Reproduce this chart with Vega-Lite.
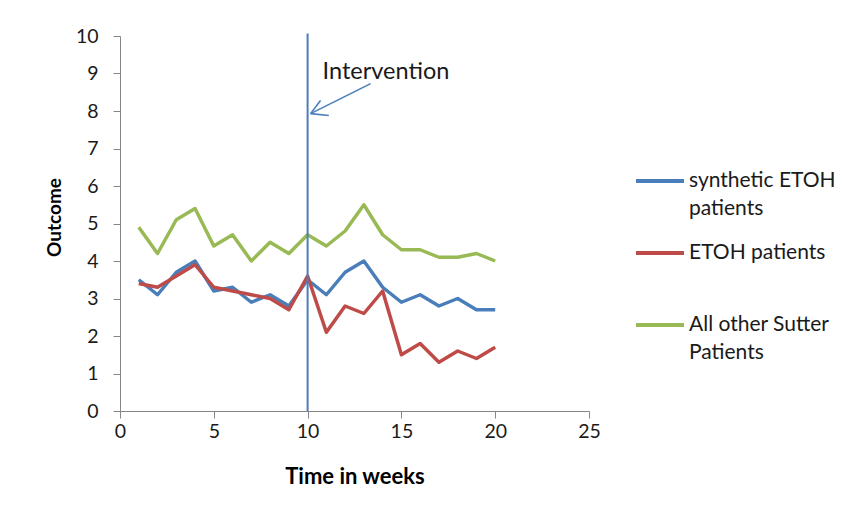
{
  "$schema": "https://vega.github.io/schema/vega-lite/v6.json",
  "width": 469,
  "height": 375,
  "autosize": {"type": "none"},
  "padding": {"left": 120, "top": 36, "right": 256, "bottom": 103},
  "background": "white",
  "config": {
    "view": {"stroke": null},
    "font": "Lato",
    "style": {"guide-label": {"lineHeight": 28}},
    "axis": {
      "grid": false,
      "domainColor": "#868686",
      "tickColor": "#868686",
      "tickSize": 7,
      "labelFont": "Lato",
      "labelFontSize": 19.5,
      "labelColor": "#1a1a1a",
      "labelOverlap": false,
      "labelFlush": false,
      "titleFont": "Lato",
      "titleFontWeight": "bold",
      "titleColor": "#000000"
    }
  },
  "datasets": {
    "series": [
      {"week": 1, "series": "synthetic ETOH patients", "value": 3.5},
      {"week": 2, "series": "synthetic ETOH patients", "value": 3.1},
      {"week": 3, "series": "synthetic ETOH patients", "value": 3.7},
      {"week": 4, "series": "synthetic ETOH patients", "value": 4.0},
      {"week": 5, "series": "synthetic ETOH patients", "value": 3.2},
      {"week": 6, "series": "synthetic ETOH patients", "value": 3.3},
      {"week": 7, "series": "synthetic ETOH patients", "value": 2.9},
      {"week": 8, "series": "synthetic ETOH patients", "value": 3.1},
      {"week": 9, "series": "synthetic ETOH patients", "value": 2.8},
      {"week": 10, "series": "synthetic ETOH patients", "value": 3.5},
      {"week": 11, "series": "synthetic ETOH patients", "value": 3.1},
      {"week": 12, "series": "synthetic ETOH patients", "value": 3.7},
      {"week": 13, "series": "synthetic ETOH patients", "value": 4.0},
      {"week": 14, "series": "synthetic ETOH patients", "value": 3.3},
      {"week": 15, "series": "synthetic ETOH patients", "value": 2.9},
      {"week": 16, "series": "synthetic ETOH patients", "value": 3.1},
      {"week": 17, "series": "synthetic ETOH patients", "value": 2.8},
      {"week": 18, "series": "synthetic ETOH patients", "value": 3.0},
      {"week": 19, "series": "synthetic ETOH patients", "value": 2.7},
      {"week": 20, "series": "synthetic ETOH patients", "value": 2.7},
      {"week": 1, "series": "ETOH patients", "value": 3.4},
      {"week": 2, "series": "ETOH patients", "value": 3.3},
      {"week": 3, "series": "ETOH patients", "value": 3.6},
      {"week": 4, "series": "ETOH patients", "value": 3.9},
      {"week": 5, "series": "ETOH patients", "value": 3.3},
      {"week": 6, "series": "ETOH patients", "value": 3.2},
      {"week": 7, "series": "ETOH patients", "value": 3.1},
      {"week": 8, "series": "ETOH patients", "value": 3.0},
      {"week": 9, "series": "ETOH patients", "value": 2.7},
      {"week": 10, "series": "ETOH patients", "value": 3.6},
      {"week": 11, "series": "ETOH patients", "value": 2.1},
      {"week": 12, "series": "ETOH patients", "value": 2.8},
      {"week": 13, "series": "ETOH patients", "value": 2.6},
      {"week": 14, "series": "ETOH patients", "value": 3.2},
      {"week": 15, "series": "ETOH patients", "value": 1.5},
      {"week": 16, "series": "ETOH patients", "value": 1.8},
      {"week": 17, "series": "ETOH patients", "value": 1.3},
      {"week": 18, "series": "ETOH patients", "value": 1.6},
      {"week": 19, "series": "ETOH patients", "value": 1.4},
      {"week": 20, "series": "ETOH patients", "value": 1.7},
      {"week": 1, "series": "All other Sutter Patients", "value": 4.9},
      {"week": 2, "series": "All other Sutter Patients", "value": 4.2},
      {"week": 3, "series": "All other Sutter Patients", "value": 5.1},
      {"week": 4, "series": "All other Sutter Patients", "value": 5.4},
      {"week": 5, "series": "All other Sutter Patients", "value": 4.4},
      {"week": 6, "series": "All other Sutter Patients", "value": 4.7},
      {"week": 7, "series": "All other Sutter Patients", "value": 4.0},
      {"week": 8, "series": "All other Sutter Patients", "value": 4.5},
      {"week": 9, "series": "All other Sutter Patients", "value": 4.2},
      {"week": 10, "series": "All other Sutter Patients", "value": 4.7},
      {"week": 11, "series": "All other Sutter Patients", "value": 4.4},
      {"week": 12, "series": "All other Sutter Patients", "value": 4.8},
      {"week": 13, "series": "All other Sutter Patients", "value": 5.5},
      {"week": 14, "series": "All other Sutter Patients", "value": 4.7},
      {"week": 15, "series": "All other Sutter Patients", "value": 4.3},
      {"week": 16, "series": "All other Sutter Patients", "value": 4.3},
      {"week": 17, "series": "All other Sutter Patients", "value": 4.1},
      {"week": 18, "series": "All other Sutter Patients", "value": 4.1},
      {"week": 19, "series": "All other Sutter Patients", "value": 4.2},
      {"week": 20, "series": "All other Sutter Patients", "value": 4.0}
    ]
  },
  "layer": [
    {
      "data": {"name": "series"},
      "mark": {"type": "line", "strokeWidth": 3.5, "strokeJoin": "round"},
      "encoding": {
        "x": {
          "field": "week", "type": "quantitative",
          "scale": {"domain": [0, 25], "nice": false, "zero": false},
          "axis": {"values": [0, 5, 10, 15, 20, 25], "title": "Time in weeks", "titleFontSize": 22, "labelPadding": 4, "titlePadding": 26, "labelOverlap": false}
        },
        "y": {
          "field": "value", "type": "quantitative",
          "scale": {"domain": [0, 10], "nice": false},
          "axis": {"values": [0, 1, 2, 3, 4, 5, 6, 7, 8, 9, 10], "tickCount": 11, "title": "Outcome", "titleFontSize": 19, "titleY": 181, "labelPadding": 15, "titlePadding": 11, "labelOverlap": false}
        },
        "color": {
          "field": "series", "type": "nominal",
          "scale": {
            "domain": ["synthetic ETOH patients", "ETOH patients", "All other Sutter Patients"],
            "range": ["#4a7ebb", "#be4b48", "#98b954"]
          },
          "legend": {
            "title": null,
            "orient": "none",
            "legendX": 514,
            "legendY": 119,
            "symbolType": "stroke",
            "symbolSize": 2300,
            "symbolStrokeWidth": 4,
            "labelFont": "Lato",
            "labelFontSize": 21,
            "labelColor": "#1a1a1a",
            "labelLimit": 300,
            "labelOffset": 3,
            "labelBaseline": "middle",
            "rowPadding": 8,
            "labelExpr": "datum.label == 'synthetic ETOH patients' ? ['synthetic ETOH', 'patients'] : datum.label == 'All other Sutter Patients' ? ['All other Sutter', 'Patients'] : [datum.label, '']"
          }
        }
      }
    },
    {
      "data": {"values": [{"x": 10, "y": 0, "y2": 10.07}]},
      "mark": {"type": "rule", "color": "#4a7ebb", "strokeWidth": 2, "clip": false},
      "encoding": {
        "x": {"field": "x", "type": "quantitative"},
        "y": {"field": "y", "type": "quantitative"},
        "y2": {"field": "y2"}
      }
    },
    {
      "data": {"values": [
        {"x": 13.36, "y": 8.73, "x2": 10.16, "y2": 7.93},
        {"x": 10.69, "y": 8.28, "x2": 10.16, "y2": 7.93},
        {"x": 11.13, "y": 7.88, "x2": 10.16, "y2": 7.93}
      ]},
      "mark": {"type": "rule", "color": "#4a7ebb", "strokeWidth": 1.6},
      "encoding": {
        "x": {"field": "x", "type": "quantitative"},
        "y": {"field": "y", "type": "quantitative"},
        "x2": {"field": "x2"},
        "y2": {"field": "y2"}
      }
    },
    {
      "data": {"values": [{"x": 10.8, "y": 9.05, "label": "Intervention"}]},
      "mark": {"type": "text", "align": "left", "baseline": "middle", "font": "Lato", "fontSize": 23.5, "color": "#1a1a1a"},
      "encoding": {
        "x": {"field": "x", "type": "quantitative"},
        "y": {"field": "y", "type": "quantitative"},
        "text": {"field": "label"}
      }
    }
  ]
}
